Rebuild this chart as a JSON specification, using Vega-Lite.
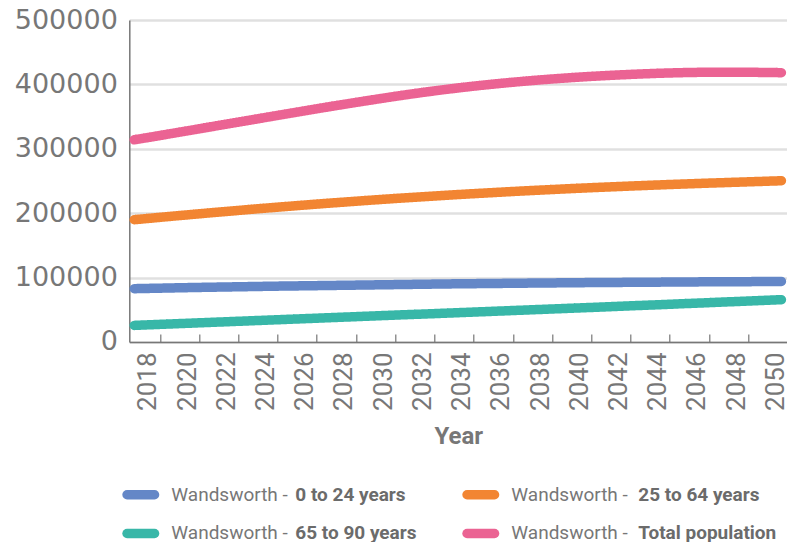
{
  "$schema": "https://vega.github.io/schema/vega-lite/v6.json",
  "width": 658,
  "height": 322,
  "autosize": {"type": "none"},
  "padding": {"left": 129.3, "top": 20, "right": 0, "bottom": 200},
  "background": "white",
  "config": {"view": {"stroke": null}},
  "datasets": {
    "pop": [
      {"year":2017,"age":"0 to 24 years","value":82800},{"year":2018,"age":"0 to 24 years","value":83400},{"year":2019,"age":"0 to 24 years","value":84000},{"year":2020,"age":"0 to 24 years","value":84600},{"year":2021,"age":"0 to 24 years","value":85100},{"year":2022,"age":"0 to 24 years","value":85600},{"year":2023,"age":"0 to 24 years","value":86100},{"year":2024,"age":"0 to 24 years","value":86600},{"year":2025,"age":"0 to 24 years","value":87000},{"year":2026,"age":"0 to 24 years","value":87400},{"year":2027,"age":"0 to 24 years","value":87800},{"year":2028,"age":"0 to 24 years","value":88200},{"year":2029,"age":"0 to 24 years","value":88600},{"year":2030,"age":"0 to 24 years","value":89000},{"year":2031,"age":"0 to 24 years","value":89400},{"year":2032,"age":"0 to 24 years","value":89800},{"year":2033,"age":"0 to 24 years","value":90200},{"year":2034,"age":"0 to 24 years","value":90500},{"year":2035,"age":"0 to 24 years","value":90800},{"year":2036,"age":"0 to 24 years","value":91100},{"year":2037,"age":"0 to 24 years","value":91400},{"year":2038,"age":"0 to 24 years","value":91700},{"year":2039,"age":"0 to 24 years","value":91900},{"year":2040,"age":"0 to 24 years","value":92200},{"year":2041,"age":"0 to 24 years","value":92400},{"year":2042,"age":"0 to 24 years","value":92600},{"year":2043,"age":"0 to 24 years","value":92800},{"year":2044,"age":"0 to 24 years","value":93000},{"year":2045,"age":"0 to 24 years","value":93200},{"year":2046,"age":"0 to 24 years","value":93400},{"year":2047,"age":"0 to 24 years","value":93500},{"year":2048,"age":"0 to 24 years","value":93700},{"year":2049,"age":"0 to 24 years","value":93800},{"year":2050,"age":"0 to 24 years","value":94000},
      {"year":2017,"age":"25 to 64 years","value":189900},{"year":2018,"age":"25 to 64 years","value":192700},{"year":2019,"age":"25 to 64 years","value":195500},{"year":2020,"age":"25 to 64 years","value":198200},{"year":2021,"age":"25 to 64 years","value":200900},{"year":2022,"age":"25 to 64 years","value":203500},{"year":2023,"age":"25 to 64 years","value":206100},{"year":2024,"age":"25 to 64 years","value":208600},{"year":2025,"age":"25 to 64 years","value":211000},{"year":2026,"age":"25 to 64 years","value":213400},{"year":2027,"age":"25 to 64 years","value":215700},{"year":2028,"age":"25 to 64 years","value":217900},{"year":2029,"age":"25 to 64 years","value":220100},{"year":2030,"age":"25 to 64 years","value":222200},{"year":2031,"age":"25 to 64 years","value":224200},{"year":2032,"age":"25 to 64 years","value":226100},{"year":2033,"age":"25 to 64 years","value":228000},{"year":2034,"age":"25 to 64 years","value":229800},{"year":2035,"age":"25 to 64 years","value":231500},{"year":2036,"age":"25 to 64 years","value":233200},{"year":2037,"age":"25 to 64 years","value":234800},{"year":2038,"age":"25 to 64 years","value":236300},{"year":2039,"age":"25 to 64 years","value":237800},{"year":2040,"age":"25 to 64 years","value":239200},{"year":2041,"age":"25 to 64 years","value":240500},{"year":2042,"age":"25 to 64 years","value":241800},{"year":2043,"age":"25 to 64 years","value":243000},{"year":2044,"age":"25 to 64 years","value":244200},{"year":2045,"age":"25 to 64 years","value":245300},{"year":2046,"age":"25 to 64 years","value":246400},{"year":2047,"age":"25 to 64 years","value":247400},{"year":2048,"age":"25 to 64 years","value":248400},{"year":2049,"age":"25 to 64 years","value":249400},{"year":2050,"age":"25 to 64 years","value":250400},
      {"year":2017,"age":"65 to 90 years","value":25800},{"year":2018,"age":"65 to 90 years","value":27000},{"year":2019,"age":"65 to 90 years","value":28200},{"year":2020,"age":"65 to 90 years","value":29400},{"year":2021,"age":"65 to 90 years","value":30600},{"year":2022,"age":"65 to 90 years","value":31800},{"year":2023,"age":"65 to 90 years","value":33000},{"year":2024,"age":"65 to 90 years","value":34200},{"year":2025,"age":"65 to 90 years","value":35400},{"year":2026,"age":"65 to 90 years","value":36600},{"year":2027,"age":"65 to 90 years","value":37800},{"year":2028,"age":"65 to 90 years","value":39000},{"year":2029,"age":"65 to 90 years","value":40200},{"year":2030,"age":"65 to 90 years","value":41400},{"year":2031,"age":"65 to 90 years","value":42600},{"year":2032,"age":"65 to 90 years","value":43700},{"year":2033,"age":"65 to 90 years","value":44900},{"year":2034,"age":"65 to 90 years","value":46100},{"year":2035,"age":"65 to 90 years","value":47300},{"year":2036,"age":"65 to 90 years","value":48500},{"year":2037,"age":"65 to 90 years","value":49700},{"year":2038,"age":"65 to 90 years","value":50900},{"year":2039,"age":"65 to 90 years","value":52100},{"year":2040,"age":"65 to 90 years","value":53300},{"year":2041,"age":"65 to 90 years","value":54500},{"year":2042,"age":"65 to 90 years","value":55800},{"year":2043,"age":"65 to 90 years","value":57000},{"year":2044,"age":"65 to 90 years","value":58200},{"year":2045,"age":"65 to 90 years","value":59500},{"year":2046,"age":"65 to 90 years","value":60700},{"year":2047,"age":"65 to 90 years","value":62000},{"year":2048,"age":"65 to 90 years","value":63200},{"year":2049,"age":"65 to 90 years","value":64500},{"year":2050,"age":"65 to 90 years","value":65700},
      {"year":2017,"age":"Total population","value":314000},{"year":2018,"age":"Total population","value":319000},{"year":2019,"age":"Total population","value":324200},{"year":2020,"age":"Total population","value":329400},{"year":2021,"age":"Total population","value":334600},{"year":2022,"age":"Total population","value":339800},{"year":2023,"age":"Total population","value":345000},{"year":2024,"age":"Total population","value":350200},{"year":2025,"age":"Total population","value":355400},{"year":2026,"age":"Total population","value":360500},{"year":2027,"age":"Total population","value":365600},{"year":2028,"age":"Total population","value":370500},{"year":2029,"age":"Total population","value":375300},{"year":2030,"age":"Total population","value":380000},{"year":2031,"age":"Total population","value":384500},{"year":2032,"age":"Total population","value":388700},{"year":2033,"age":"Total population","value":392600},{"year":2034,"age":"Total population","value":396200},{"year":2035,"age":"Total population","value":399500},{"year":2036,"age":"Total population","value":402500},{"year":2037,"age":"Total population","value":405200},{"year":2038,"age":"Total population","value":407700},{"year":2039,"age":"Total population","value":409900},{"year":2040,"age":"Total population","value":411900},{"year":2041,"age":"Total population","value":413600},{"year":2042,"age":"Total population","value":415100},{"year":2043,"age":"Total population","value":416400},{"year":2044,"age":"Total population","value":417500},{"year":2045,"age":"Total population","value":418300},{"year":2046,"age":"Total population","value":418800},{"year":2047,"age":"Total population","value":419000},{"year":2048,"age":"Total population","value":418900},{"year":2049,"age":"Total population","value":418600},{"year":2050,"age":"Total population","value":418200}
    ]
  },
  "data": {"name": "pop"},
  "mark": {"type": "line", "strokeWidth": 9.5, "strokeCap": "round", "strokeJoin": "round", "interpolate": "monotone", "clip": false},
  "encoding": {
    "x": {
      "field": "year", "type": "quantitative",
      "scale": {"domain": [2016.75, 2050.3], "nice": false, "zero": false},
      "axis": {
        "values": [2018,2020,2022,2024,2026,2028,2030,2032,2034,2036,2038,2040,2042,2044,2046,2048,2050],
        "format": "d", "labelAngle": -90, "title": "Year", "grid": false,
        "tickSize": -8, "tickOffset": 6, "labelOffset": -12, "labelPadding": 18,
        "tickColor": "#777777", "tickWidth": 1.2,
        "domainColor": "#777777", "domainWidth": 1.5,
        "labelColor": "#777777", "labelFont": "Roboto", "labelFontSize": 26,
        "labelFlush": false, "labelOverlap": false, "labelBound": false,
        "titleFont": "Roboto", "titleFontWeight": "bold", "titleFontSize": 24, "titleColor": "#777777", "titlePadding": 14
      }
    },
    "y": {
      "field": "value", "type": "quantitative",
      "scale": {"domain": [0, 500000], "nice": false},
      "axis": {
        "values": [0,100000,200000,300000,400000,500000], "format": "d",
        "ticks": false, "labelPadding": 12, "title": null,
        "labelFont": "DejaVu Sans", "labelFontSize": 27, "labelColor": "#777777",
        "gridColor": "#e0e0e0", "gridWidth": 2.5,
        "domainColor": "#777777", "domainWidth": 1.5
      }
    },
    "color": {
      "field": "age", "type": "nominal",
      "scale": {"range": ["#6487c7", "#f28532", "#38b7a8", "#eb6393"]},
      "legend": {
        "orient": "none", "legendX": -7, "legendY": 456, "columns": 2, "direction": "horizontal",
        "title": null, "labelExpr": "'Wandsworth -'",
        "symbolType": "stroke", "symbolStrokeWidth": 9.5, "symbolSize": 756,
        "labelFont": "Roboto", "labelFontSize": 19, "labelColor": "#777777",
        "labelOffset": 12, "columnPadding": 159, "rowPadding": 0,
        "encode": {"symbols": {"update": {"strokeCap": {"value": "round"}}}}
      }
    },
    "strokeDash": {
      "field": "age", "type": "nominal",
      "scale": {"domain": ["0 to 24 years", "25 to 64 years", "65 to 90 years", "Total population"], "range": [[1,0],[1,0],[1,0],[1,0]]},
      "legend": {
        "orient": "none", "legendX": 147, "legendY": 465, "columns": 2, "direction": "horizontal",
        "title": null, "symbolType": "circle", "symbolSize": 1, "symbolOpacity": 0, "symbolStrokeWidth": 0,
        "labelFont": "Roboto", "labelFontSize": 19, "labelFontWeight": "bold", "labelColor": "#6b6b6b",
        "labelOffset": 0, "columnPadding": 202, "rowPadding": 19
      }
    }
  }
}
